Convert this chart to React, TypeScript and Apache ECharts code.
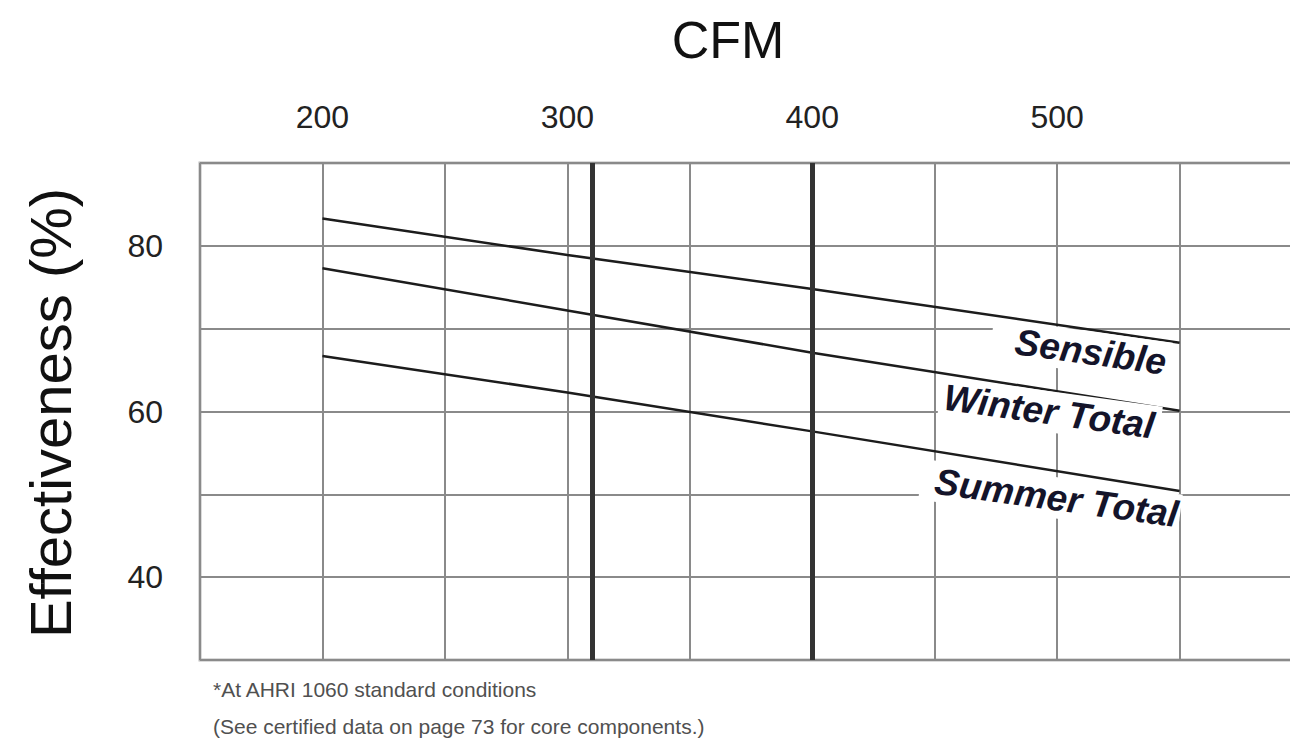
import React, { useEffect, useRef } from "react";
import * as echarts from "echarts";

const cfmPoints = [200, 300, 400, 550];
const sensible = [83.3, 78.9, 74.8, 68.3];
const winterTotal = [77.3, 72.2, 67.1, 60.1];
const summerTotal = [66.7, 62.3, 57.6, 50.4];
const markerCfm = [310, 400];
const xTickLabels = [200, 300, 400, 500];
const yTickLabels = [40, 60, 80];
const seriesNames = ["Sensible", "Winter Total", "Summer Total"];
const footnotes = [
  "*At AHRI 1060 standard conditions",
  "(See certified data on page 73 for core components.)",
];

const SANS = "'Liberation Sans', Arial, Helvetica, sans-serif";

export default function App() {
  const ref = useRef<HTMLDivElement>(null);
  useEffect(() => {
    if (!ref.current) return;
    const chart = echarts.init(ref.current, undefined, { renderer: "svg" });
    const mk = (vals: number[]) => cfmPoints.map((c, i) => [c, vals[i]]);
    const lineStyle = { color: "#1c1c1c", width: 2.5 };
    const labelPos = [
      { x: 1170, y: 363 },
      { x: 1160, y: 427 },
      { x: 1180, y: 515 },
    ];
    const labelPad = [
      [2, 4, 2, 24],
      [2, 6, 2, 4],
      [2, 2, 2, 14],
    ];
    const option: any = {
      animation: false,
      backgroundColor: "#ffffff",
      grid: {
        left: 200,
        top: 163,
        width: 1102,
        bottom: 82,
        outerBoundsMode: "none",
        containLabel: false,
        show: true,
        borderColor: "#b8b8b8",
        borderWidth: 3,
        backgroundColor: "transparent",
      },
      xAxis: {
        type: "value",
        position: "top",
        min: 150,
        max: 600,
        interval: 50,
        axisLine: { show: false },
        axisTick: { show: false },
        splitLine: { show: true, lineStyle: { color: "#8a8a8a", width: 2 } },
        axisLabel: {
          margin: 30,
          fontSize: 32,
          fontFamily: SANS,
          color: "#222",
          formatter: (v: number) => (xTickLabels.includes(v) ? String(v) : ""),
        },
      },
      yAxis: {
        type: "value",
        min: 30,
        max: 90,
        interval: 10,
        axisLine: { show: false },
        axisTick: { show: false },
        splitLine: { show: true, lineStyle: { color: "#8a8a8a", width: 2 } },
        axisLabel: {
          margin: 37,
          fontSize: 32,
          fontFamily: SANS,
          color: "#222",
          formatter: (v: number) => (yTickLabels.includes(v) ? String(v) : ""),
        },
      },
      series: [
        {
          name: seriesNames[0],
          type: "line",
          data: mk(sensible),
          symbol: "none",
          lineStyle,
          markLine: {
            silent: true,
            symbol: ["none", "none"],
            label: { show: false },
            lineStyle: { color: "#333333", width: 5, type: "solid" },
            data: markerCfm.map((c) => ({ xAxis: c })),
          },
        },
        { name: seriesNames[1], type: "line", data: mk(winterTotal), symbol: "none", lineStyle },
        { name: seriesNames[2], type: "line", data: mk(summerTotal), symbol: "none", lineStyle },
      ],
      graphic: [
        {
          type: "text",
          x: 728,
          y: 40,
          style: {
            text: "CFM",
            font: `52px ${SANS}`,
            fill: "#111",
            textAlign: "center",
            textVerticalAlign: "middle",
          },
        },
        {
          type: "text",
          x: 50,
          y: 413,
          rotation: Math.PI / 2,
          style: {
            text: "Effectiveness (%)",
            font: `58px ${SANS}`,
            fill: "#111",
            textAlign: "center",
            textVerticalAlign: "middle",
          },
        },
        ...seriesNames.map((n, i) => ({
          type: "text",
          x: labelPos[i].x,
          y: labelPos[i].y,
          rotation: -0.137,
          z: 100,
          style: {
            text: n,
            font: `italic bold 37px ${SANS}`,
            fill: "#14142a",
            textAlign: "right",
            textVerticalAlign: "middle",
            backgroundColor: "#ffffff",
            padding: labelPad[i],
          },
        })),
        ...footnotes.map((t, i) => ({
          type: "text",
          x: 213,
          y: 689 + i * 37,
          style: {
            text: t,
            font: `21px ${SANS}`,
            fill: "#505050",
            textAlign: "left",
            textVerticalAlign: "middle",
          },
        })),
      ],
    };
    chart.setOption(option);
    return () => chart.dispose();
  }, []);
  return (
    <div
      ref={ref}
      style={{ position: "absolute", left: 0, top: 0, width: 1290, height: 742, background: "#fff" }}
    />
  );
}
